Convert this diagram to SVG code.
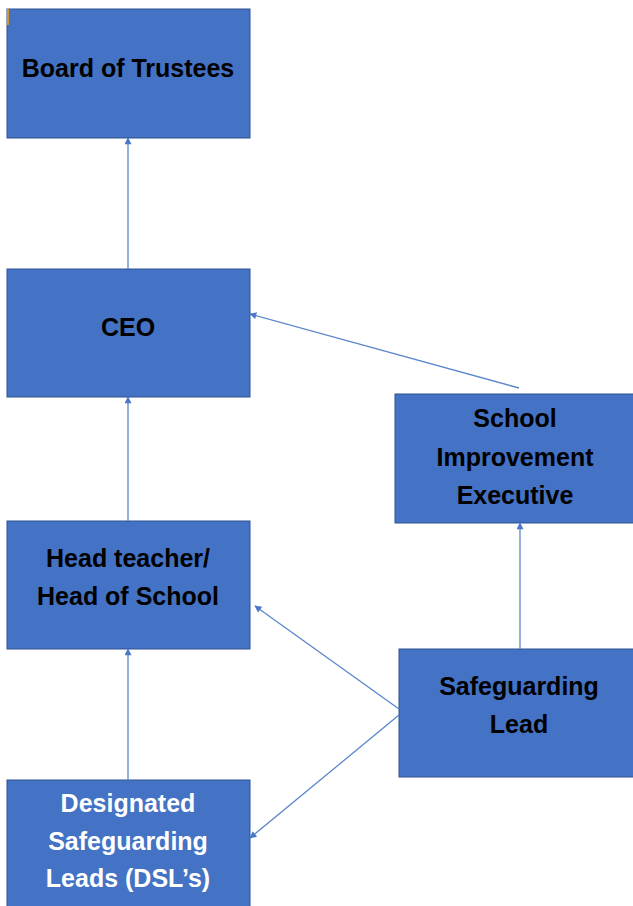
<svg xmlns="http://www.w3.org/2000/svg" width="633" height="906" viewBox="0 0 633 906">
<style>
.box{fill:#4472C4;stroke:#2F528F;stroke-width:1}
.t{font-family:"Liberation Sans",Arial,sans-serif;font-weight:bold;font-size:25px;fill:#000;text-anchor:middle}
.w{fill:#fff}
.c{stroke:#5B86CC;stroke-width:1.3;fill:none;marker-end:url(#ah)}
</style>
<defs>
<marker id="ah" viewBox="0 0 10 10" refX="9" refY="5" markerWidth="8" markerHeight="7" orient="auto" markerUnits="userSpaceOnUse">
<path d="M0,0 L10,5 L0,10 z" fill="#4A78C8"/>
</marker>
</defs>
<rect width="633" height="906" fill="#fff"/>
<g id="board">
<rect class="box" x="7" y="9" width="243" height="129"/>
<rect x="7" y="9" width="2" height="16" fill="#D4952B"/>
<text class="t" x="128" y="77">Board of Trustees</text>
</g>
<g id="ceo">
<rect class="box" x="7" y="269" width="243" height="128"/>
<text class="t" x="128" y="336">CEO</text>
</g>
<g id="head">
<rect class="box" x="7" y="521" width="243" height="128"/>
<text class="t" x="128" y="567">Head teacher/</text>
<text class="t" x="128" y="605">Head of School</text>
</g>
<g id="dsl">
<rect class="box" x="7" y="780" width="243" height="130"/>
<text class="t w" x="128" y="812">Designated</text>
<text class="t w" x="128" y="850">Safeguarding</text>
<text class="t w" x="128" y="887">Leads (DSL’s)</text>
</g>
<g id="sie">
<rect class="box" x="395" y="394" width="242" height="129"/>
<text class="t" x="515" y="427">School</text>
<text class="t" x="515" y="466">Improvement</text>
<text class="t" x="515" y="504">Executive</text>
</g>
<g id="sl">
<rect class="box" x="399" y="649" width="238" height="128"/>
<text class="t" x="519" y="695">Safeguarding</text>
<text class="t" x="519" y="733">Lead</text>
</g>
<g id="connectors">
<line class="c" x1="128" y1="269" x2="128" y2="138"/>
<line class="c" x1="128" y1="521" x2="128" y2="397"/>
<line class="c" x1="128" y1="780" x2="128" y2="649"/>
<line class="c" x1="520" y1="649" x2="520" y2="523"/>
<line class="c" x1="519" y1="388" x2="250" y2="314"/>
<line class="c" x1="399" y1="709" x2="255" y2="606"/>
<line class="c" x1="399" y1="715" x2="250" y2="838"/>
</g>
</svg>
